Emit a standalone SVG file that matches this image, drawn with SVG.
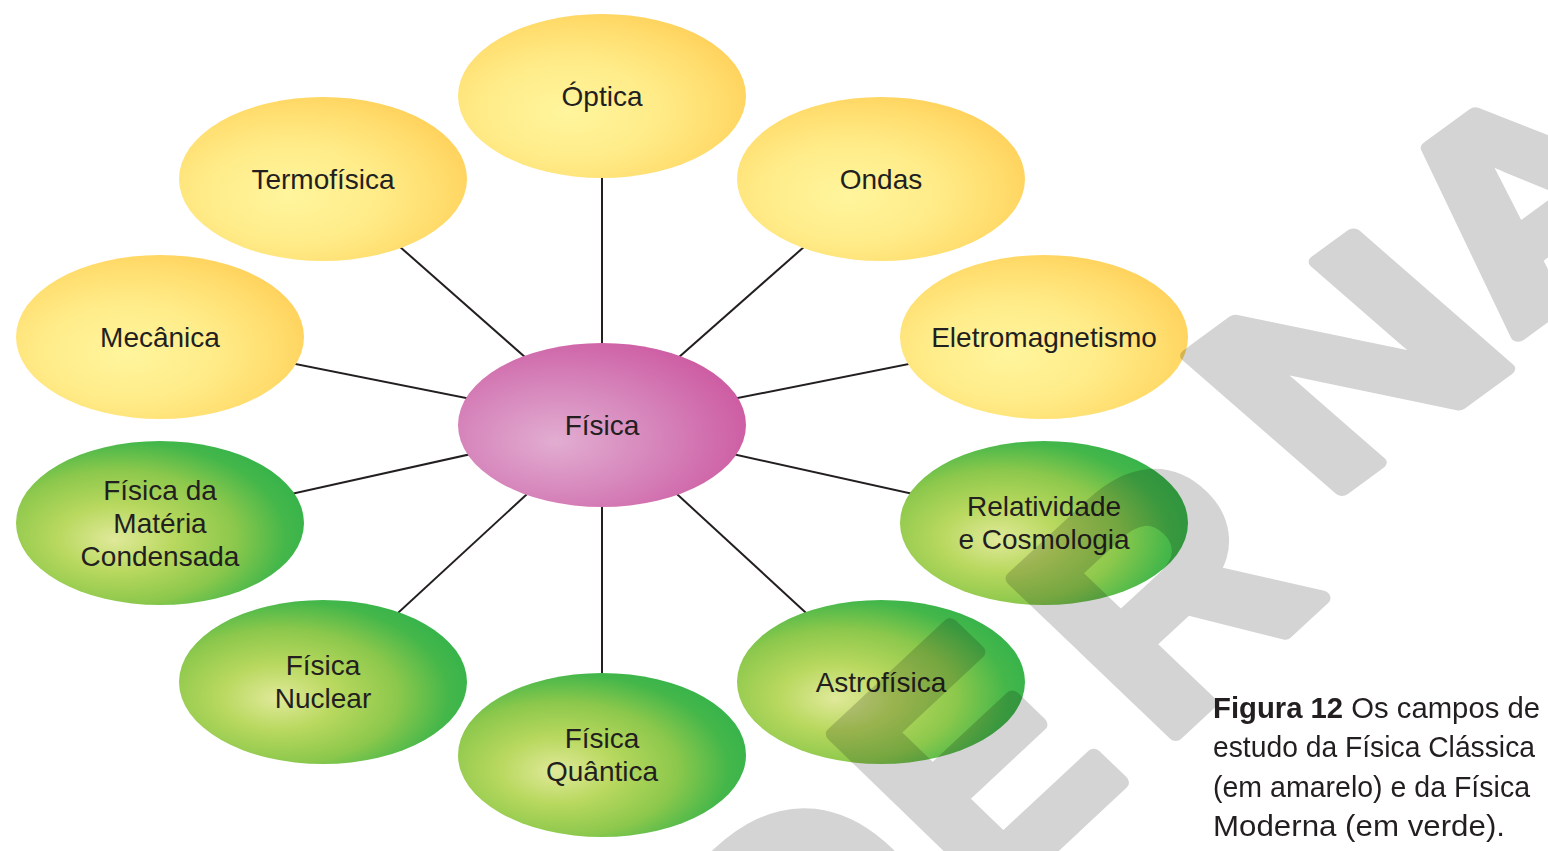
<svg xmlns="http://www.w3.org/2000/svg" width="1548" height="851" viewBox="0 0 1548 851">
<defs>
<radialGradient id="gy" cx="0.4" cy="0.58" r="0.66" fx="0.38" fy="0.6">
<stop offset="0" stop-color="#fff59d"/>
<stop offset="0.45" stop-color="#ffec89"/>
<stop offset="0.8" stop-color="#ffdc6c"/>
<stop offset="1" stop-color="#ffcf58"/>
</radialGradient>
<radialGradient id="gg" cx="0.36" cy="0.58" r="0.68" fx="0.34" fy="0.6">
<stop offset="0" stop-color="#e0e99a"/>
<stop offset="0.3" stop-color="#b8d85e"/>
<stop offset="0.6" stop-color="#8cc84c"/>
<stop offset="0.85" stop-color="#45b74a"/>
<stop offset="1" stop-color="#34b34a"/>
</radialGradient>
<radialGradient id="gp" cx="0.36" cy="0.58" r="0.68" fx="0.34" fy="0.6">
<stop offset="0" stop-color="#e2add1"/>
<stop offset="0.5" stop-color="#d685bb"/>
<stop offset="1" stop-color="#cd5aa1"/>
</radialGradient>
</defs>
<style>
.lk{stroke:#231f20;stroke-width:2;fill:none}
.y{fill:url(#gy)}
.g{fill:url(#gg)}
.p{fill:url(#gp)}
.t{font-family:"Liberation Sans",Arial,sans-serif;font-size:28px;fill:#231f20;text-anchor:middle}
.cap{font-family:"Liberation Sans",Arial,sans-serif;font-size:29px;fill:#231f20}
.wm{font-family:"Liberation Sans",Arial,sans-serif;font-weight:bold;font-size:300px;fill:#d4d4d4;stroke:#d4d4d4;stroke-width:14;stroke-linejoin:round}
</style>
<rect width="1548" height="851" fill="#ffffff"/>
<g id="connectors">
<line class="lk" x1="602" y1="425" x2="602" y2="96"/>
<line class="lk" x1="602" y1="425" x2="323" y2="179"/>
<line class="lk" x1="602" y1="425" x2="881" y2="179"/>
<line class="lk" x1="602" y1="425" x2="160" y2="337"/>
<line class="lk" x1="602" y1="425" x2="1044" y2="337"/>
<line class="lk" x1="602" y1="425" x2="160" y2="523"/>
<line class="lk" x1="602" y1="425" x2="1044" y2="523"/>
<line class="lk" x1="602" y1="425" x2="323" y2="682"/>
<line class="lk" x1="602" y1="425" x2="881" y2="682"/>
<line class="lk" x1="602" y1="425" x2="602" y2="755"/>
</g>
<g id="optica"><ellipse class="y" cx="602" cy="96" rx="144" ry="82"/><text class="t" x="602" y="106">Óptica</text></g>
<g id="termofisica"><ellipse class="y" cx="323" cy="179" rx="144" ry="82"/><text class="t" x="323" y="189">Termofísica</text></g>
<g id="ondas"><ellipse class="y" cx="881" cy="179" rx="144" ry="82"/><text class="t" x="881" y="189">Ondas</text></g>
<g id="mecanica"><ellipse class="y" cx="160" cy="337" rx="144" ry="82"/><text class="t" x="160" y="347">Mecânica</text></g>
<g id="eletromagnetismo"><ellipse class="y" cx="1044" cy="337" rx="144" ry="82"/><text class="t" x="1044" y="347">Eletromagnetismo</text></g>
<g id="fisica"><ellipse class="p" cx="602" cy="425" rx="144" ry="82"/><text class="t" x="602" y="435">Física</text></g>
<g id="materia"><ellipse class="g" cx="160" cy="523" rx="144" ry="82"/><text class="t" x="160" y="500">Física da</text><text class="t" x="160" y="533">Matéria</text><text class="t" x="160" y="566">Condensada</text></g>
<g id="relatividade"><ellipse class="g" cx="1044" cy="523" rx="144" ry="82"/><text class="t" x="1044" y="516">Relatividade</text><text class="t" x="1044" y="549">e Cosmologia</text></g>
<g id="nuclear"><ellipse class="g" cx="323" cy="682" rx="144" ry="82"/><text class="t" x="323" y="675">Física</text><text class="t" x="323" y="708">Nuclear</text></g>
<g id="astrofisica"><ellipse class="g" cx="881" cy="682" rx="144" ry="82"/><text class="t" x="881" y="692">Astrofísica</text></g>
<g id="quantica"><ellipse class="g" cx="602" cy="755" rx="144" ry="82"/><text class="t" x="602" y="748">Física</text><text class="t" x="602" y="781">Quântica</text></g>
<g id="watermark" style="mix-blend-mode:multiply">
<text class="wm" transform="matrix(0.78,-0.73,0.805,0.778,812,1084)">D</text>
<text class="wm" transform="matrix(0.724,-0.675,0.805,0.778,985,909)">E</text>
<text class="wm" transform="matrix(0.773,-0.714,0.786,0.751,1160,748)">R</text>
<text class="wm" transform="matrix(0.931,-0.680,0.747,0.651,1324,503)">N</text>
<text class="wm" transform="matrix(0.90,-0.66,0.763,0.668,1512,340)">A</text>
</g>
<g id="caption">
<text class="cap" x="1213" y="718" textLength="327" lengthAdjust="spacingAndGlyphs"><tspan font-weight="bold">Figura 12</tspan> Os campos de</text>
<text class="cap" x="1213" y="757" textLength="322" lengthAdjust="spacingAndGlyphs">estudo da Física Clássica</text>
<text class="cap" x="1213" y="797" textLength="317" lengthAdjust="spacingAndGlyphs">(em amarelo) e da Física</text>
<text class="cap" x="1213" y="836" textLength="292" lengthAdjust="spacingAndGlyphs">Moderna (em verde).</text>
</g>
</svg>
